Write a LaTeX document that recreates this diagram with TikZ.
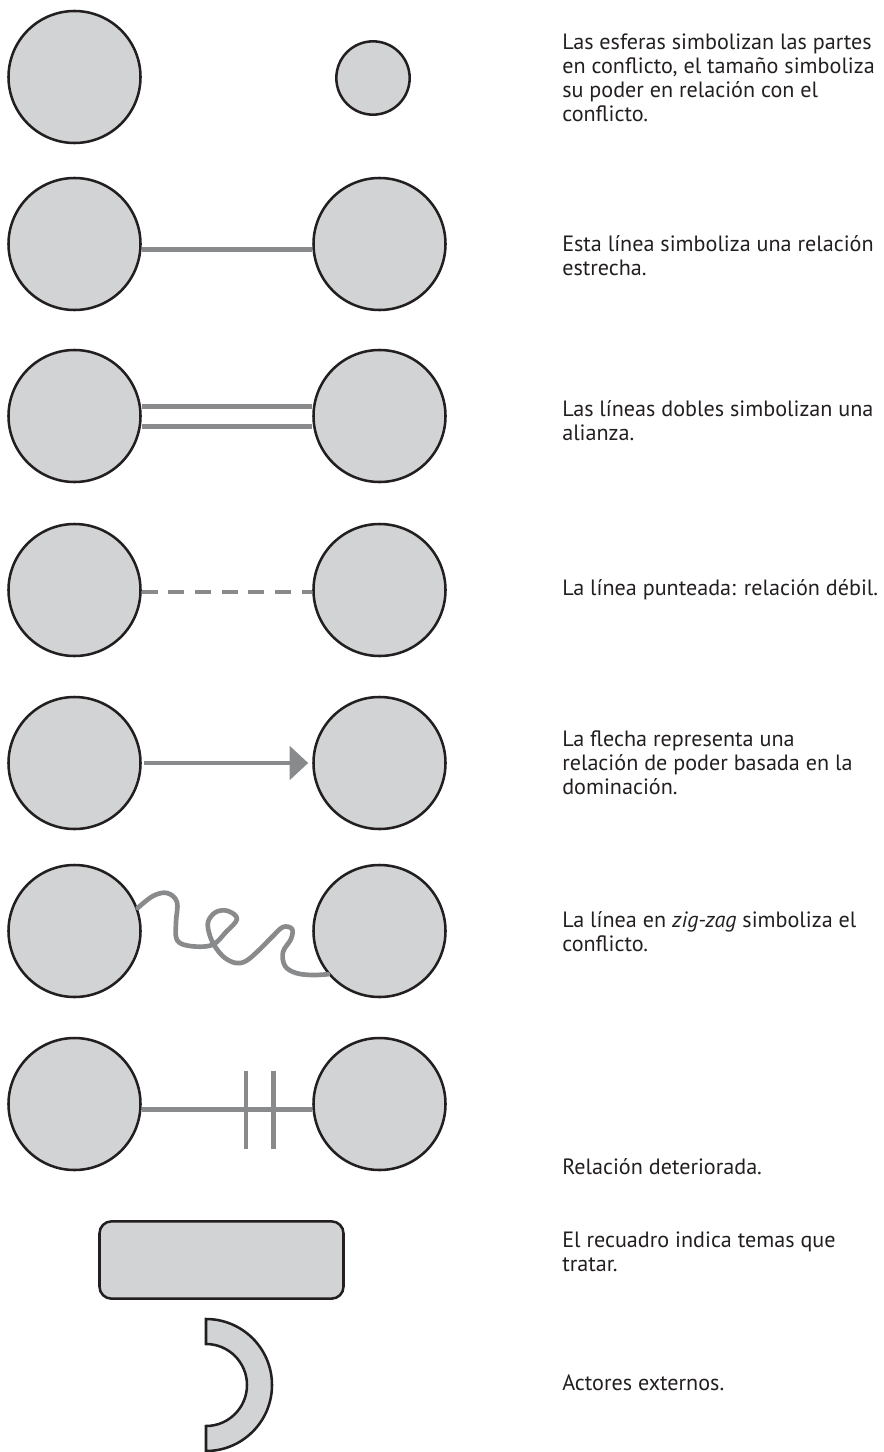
\documentclass[tikz,border=0pt]{standalone}
\usepackage{fontspec}
\setmainfont{PT Sans}
\usetikzlibrary{arrows.meta}
\definecolor{sphere}{RGB}{209,211,212}
\definecolor{rim}{RGB}{35,31,32}
\definecolor{bondgray}{RGB}{137,138,140}
\begin{document}
\begin{tikzpicture}[x=0.75pt, y=-0.75pt,
    party/.style={circle, draw=rim, fill=sphere, line width=1.9pt, minimum size=99pt, inner sep=0pt},
    bond/.style={draw=bondgray, line width=3.5pt},
    legend/.style={anchor=west, align=left, inner sep=0pt, text=rim, font=\fontsize{16.6pt}{18pt}\selectfont}]

    \useasboundingbox (0,0) rectangle (883,1452);

    % the parties
    \node[party] (big) at (74.5,77) {};
    \node[party, minimum size=55pt] (small) at (373,78) {};
    \node[party] (strongA) at (74.5,244) {};
    \node[party] (strongB) at (379.5,244) {};
    \node[party] (allyA) at (74.5,416) {};
    \node[party] (allyB) at (379.5,416) {};
    \node[party] (weakA) at (74.5,590) {};
    \node[party] (weakB) at (379.5,590) {};
    \node[party] (rulerA) at (74.5,763) {};
    \node[party] (rulerB) at (379.5,763) {};
    \node[party] (fightA) at (74.5,931) {};
    \node[party] (fightB) at (379.5,931) {};
    \node[party] (brokenA) at (74.5,1104) {};
    \node[party] (brokenB) at (379.5,1104) {};

    % the relations
    \draw[bond] ([yshift=-4pt]strongA.east) -- ([yshift=-4pt]strongB.west);
    \draw[bond] ([yshift=7pt]allyA.east) -- ([yshift=7pt]allyB.west);
    \draw[bond] ([yshift=-8pt]allyA.east) -- ([yshift=-8pt]allyB.west);
    \draw[bond, dash pattern=on 12pt off 8pt] ([yshift=-1.5pt]weakA.east) -- ([yshift=-1.5pt]weakB.west);
    \draw[bond, -{Triangle[length=14pt,width=25pt]}, shorten <=2pt, shorten >=3pt] (rulerA.east) -- (rulerB.west);
    \draw[bond, line join=round, line cap=round] plot[smooth, tension=0.6] coordinates {(fightA.20) (153,896) (167,893) (177,902) (176,922) (177,940) (190,946) (212,945) (226,932) (237,919) (228,911) (216,912) (208,922) (210,936) (216,948) (225,958) (236,963) (246,961) (258,951) (272,937) (283,927) (292,929) (291,939) (283,952) (285,966) (296,973) (312,975) (fightB.220)};
    \draw[bond] ([yshift=-4pt]brokenA.east) -- ([yshift=-4pt]brokenB.west) coordinate[pos=0.612] (cut1) coordinate[pos=0.771] (cut2);
    \draw[bond] ([yshift=29pt]cut1) -- ([yshift=-30pt]cut1);
    \draw[bond] ([yshift=29pt]cut2) -- ([yshift=-30pt]cut2);

    % topics and outside actors
    \node[draw=rim, fill=sphere, line width=1.9pt, rounded corners=9pt, minimum width=183pt, minimum height=58pt] (topics) at (221.5,1260) {};
    \draw[draw=rim, fill=sphere, line width=1.9pt] (206,1319) arc[start angle=-90, end angle=90, radius=66] -- (206,1426) arc[start angle=90, end angle=-90, radius=41] -- cycle;

    % the legend texts
    \node[legend] (t1) at (562,78) {Las esferas simbolizan las partes\\en conflicto, el tamaño simboliza\\su poder en relación con el\\conflicto.};
    \node[legend] (t2) at (562,256) {Esta línea simboliza una relación\\estrecha.};
    \node[legend] (t3) at (562,421) {Las líneas dobles simbolizan una\\alianza.};
    \node[legend] (t4) at (562,590) {La línea punteada: relación débil.};
    \node[legend] (t5) at (562,763) {La flecha representa una\\relación de poder basada en la\\dominación.};
    \node[legend] (t6) at (562,932) {La línea en \textit{zig-zag} simboliza el\\conflicto.};
    \node[legend] (t7) at (562,1167) {Relación deteriorada.};
    \node[legend] (t8) at (562,1252) {El recuadro indica temas que\\tratar.};
    \node[legend] (t9) at (562,1383) {Actores externos.};
\end{tikzpicture}
\end{document}
